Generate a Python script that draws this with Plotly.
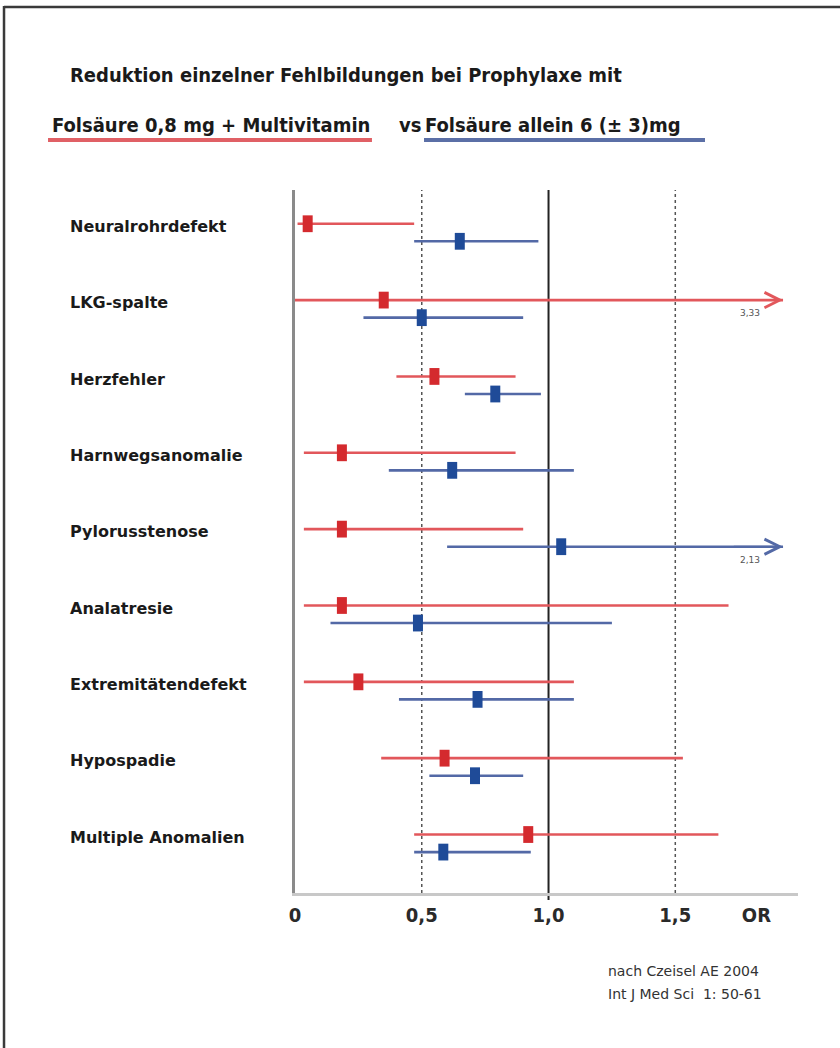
import plotly.graph_objects as go

# ---------------- data ----------------
categories = ["Neuralrohrdefekt", "LKG-spalte", "Herzfehler", "Harnwegsanomalie",
              "Pylorusstenose", "Analatresie", "Extremitätendefekt", "Hypospadie",
              "Multiple Anomalien"]
# Folsäure 0,8 mg + Multivitamin (red)
multi_or = [0.05, 0.35, 0.55, 0.185, 0.185, 0.185, 0.25, 0.59, 0.92]
multi_lo = [0.01, 0.00, 0.40, 0.035, 0.035, 0.035, 0.035, 0.34, 0.47]
multi_hi = [0.47, 3.33, 0.87, 0.87, 0.90, 1.71, 1.10, 1.53, 1.67]
# Folsäure allein 6 (± 3) mg (blue)
folic_or = [0.65, 0.50, 0.79, 0.62, 1.05, 0.485, 0.72, 0.71, 0.585]
folic_lo = [0.47, 0.27, 0.67, 0.37, 0.60, 0.14, 0.41, 0.53, 0.47]
folic_hi = [0.96, 0.90, 0.97, 1.10, 2.13, 1.25, 1.10, 0.90, 0.93]

tick_vals = [0, 0.5, 1.0, 1.5, 1.82]
tick_text = ["0", "0,5", "1,0", "1,5", "OR"]

# ---------------- layout constants ----------------
X_MAX = 1.984
ARROW_TIP = 1.925
Y_TOP, Y_BOT = -0.557, 8.651
OFF = 0.115

RED_M, RED_L = "#d42a2e", "#e2575b"
BLUE_M, BLUE_L = "#1f4b98", "#5369a6"
NARROW = "Liberation Sans Narrow, Arial Narrow, DejaVu Sans Condensed, sans-serif"
LABEL_FONT = "DejaVu Sans, Verdana, sans-serif"

fig = go.Figure()


def add_series(ors, los, his, dy, mcol, lcol, name):
    xs, ys = [], []
    for i, (lo, hi) in enumerate(zip(los, his)):
        xs += [lo, min(hi, ARROW_TIP), None]
        ys += [i + dy, i + dy, None]
    fig.add_trace(go.Scatter(x=xs, y=ys, mode="lines", line=dict(color=lcol, width=2.6),
                             hoverinfo="skip", showlegend=False, cliponaxis=False))
    fig.add_trace(go.Scatter(x=ors, y=[i + dy for i in range(len(ors))], mode="markers",
                             name=name, showlegend=False, cliponaxis=False,
                             marker=dict(symbol="line-ns", size=12,
                                         line=dict(color=mcol, width=10))))
    for i, hi in enumerate(his):
        if hi > ARROW_TIP:
            fig.add_annotation(x=ARROW_TIP, y=i + dy, ax=ARROW_TIP - 0.2, ay=i + dy,
                               xref="x", yref="y", axref="x", ayref="y", text="",
                               showarrow=True, arrowhead=5, arrowsize=1.5, arrowwidth=2,
                               arrowcolor=lcol)
            fig.add_annotation(x=ARROW_TIP - 0.13, y=i + dy, xref="x", yref="y",
                               text=f"{hi:.2f}".replace(".", ","), showarrow=False,
                               yshift=-13, font=dict(size=9, color="#555", family=LABEL_FONT))


# vertical reference lines
for v in (0.5, 1.5):
    fig.add_shape(type="line", x0=v, x1=v, xref="x", y0=0, y1=1, yref="y domain",
                  line=dict(color="#555", width=1.5, dash="dot"), layer="below")
fig.add_shape(type="line", x0=1.0, x1=1.0, xref="x", y0=-0.01, y1=1, yref="y domain",
              line=dict(color="#222", width=2), layer="below")

add_series(multi_or, multi_lo, multi_hi, -OFF, RED_M, RED_L, "Folsäure 0,8 mg + Multivitamin")
add_series(folic_or, folic_lo, folic_hi, OFF, BLUE_M, BLUE_L, "Folsäure allein 6 (± 3)mg")

# category labels
for i, c in enumerate(categories):
    fig.add_annotation(x=-0.451, xref="paper", xanchor="left", y=i - 0.08, yref="y",
                       text=f"<b>{c}</b>", showarrow=False,
                       font=dict(size=16, color="#1a1a1a", family=LABEL_FONT))

# titles
TITLE_SIZE = 20
fig.add_annotation(x=-0.451, y=1.1636, xref="paper", yref="paper", xanchor="left",
                   yanchor="middle", showarrow=False,
                   text="<b>Reduktion einzelner Fehlbildungen bei Prophylaxe mit</b>",
                   font=dict(size=TITLE_SIZE, color="#1a1a1a", family=NARROW))
fig.add_annotation(x=-0.487, y=1.0925, xref="paper", yref="paper", xanchor="left",
                   yanchor="middle", showarrow=False,
                   text="<b>Folsäure 0,8 mg + Multivitamin</b>",
                   font=dict(size=TITLE_SIZE, color="#1a1a1a", family=NARROW))
fig.add_annotation(x=0.2028, y=1.0925, xref="paper", yref="paper", xanchor="left",
                   yanchor="middle", showarrow=False, text="<b>vs</b>",
                   font=dict(size=TITLE_SIZE, color="#1a1a1a", family=NARROW))
fig.add_annotation(x=0.2545, y=1.0925, xref="paper", yref="paper", xanchor="left",
                   yanchor="middle", showarrow=False,
                   text="<b>Folsäure allein 6 (± 3)mg</b>",
                   font=dict(size=TITLE_SIZE, color="#1a1a1a", family=NARROW))
# underlines
fig.add_shape(type="line", xref="paper", yref="paper", x0=-0.491, x1=0.153,
              y0=1.0711, y1=1.0711, line=dict(color="#e06065", width=4))
fig.add_shape(type="line", xref="paper", yref="paper", x0=0.2565, x1=0.8151,
              y0=1.0711, y1=1.0711, line=dict(color="#5b6fa6", width=4))

# source
fig.add_annotation(x=0.6183, y=-0.1109, xref="paper", yref="paper", xanchor="left",
                   yanchor="middle", showarrow=False, text="nach Czeisel AE 2004",
                   font=dict(size=14, color="#333", family=LABEL_FONT))
fig.add_annotation(x=0.6183, y=-0.1437, xref="paper", yref="paper", xanchor="left",
                   yanchor="middle", showarrow=False, text="Int J Med Sci  1: 50-61",
                   font=dict(size=14, color="#333", family=LABEL_FONT))

# frame (top and left edges)
fig.add_shape(type="line", xref="paper", yref="paper", x0=-0.5785, x1=1.09,
              y0=1.2603, y1=1.2603, line=dict(color="#3a3a3a", width=2.5))
fig.add_shape(type="line", xref="paper", yref="paper", x0=-0.5785, x1=-0.5785,
              y0=1.2617, y1=-0.23, line=dict(color="#3a3a3a", width=2.5))

fig.update_layout(
    width=840, height=1048,
    margin=dict(l=295, r=42, t=190, b=155),
    paper_bgcolor="white", plot_bgcolor="white",
    showlegend=False,
    xaxis=dict(range=[0, X_MAX], showgrid=False, zeroline=False,
               showline=True, linecolor="#c8c8c8", linewidth=3,
               tickvals=tick_vals, ticktext=[f"<b>{t}</b>" for t in tick_text],
               ticks="outside", ticklen=2, tickcolor="rgba(0,0,0,0)",
               tickfont=dict(size=20, color="#2a2a2a", family=NARROW)),
    yaxis=dict(range=[Y_BOT, Y_TOP], showgrid=False, zeroline=False,
               showline=True, linecolor="#8a8a8a", linewidth=2.5,
               showticklabels=False, ticks=""),
)

fig.write_html("out.html", config={"displayModeBar": False},
               post_script="document.body.style.margin='0';document.body.style.overflow='hidden';")
